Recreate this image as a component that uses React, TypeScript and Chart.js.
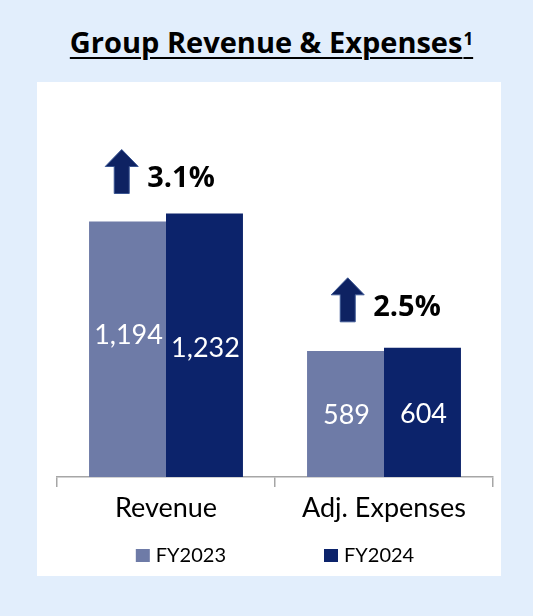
import React, { useEffect, useRef } from "react";
import { Chart, registerables } from "chart.js";

Chart.register(...registerables);

const categories = ["Revenue", "Adj. Expenses"];
const seriesNames = ["FY2023", "FY2024"];
const fy2023 = [1194, 589];
const fy2024 = [1232, 604];
const growthLabels = ["3.1%", "2.5%"];

const seriesColors = ["#6E7BA7", "#0C236B"];
const FONT = "Lato, 'Open Sans', sans-serif";
const BOLD_FONT = "'Open Sans', Lato, sans-serif";

const valueLabelPlugin = {
  id: "valueLabels",
  afterDatasetsDraw(chart: any) {
    const ctx = chart.ctx;
    const shifts = [
      [-15, 0],
      [2, 1],
    ];
    ctx.save();
    ctx.fillStyle = "#FFFFFF";
    ctx.font = `27px ${FONT}`;
    ctx.textAlign = "center";
    ctx.textBaseline = "alphabetic";
    chart.data.datasets.forEach((ds: any, di: number) => {
      const meta = chart.getDatasetMeta(di);
      meta.data.forEach((bar: any, i: number) => {
        const { x, y, base } = bar.getProps(["x", "y", "base"], true);
        const mid = (y + base) / 2 + (shifts[di]?.[i] ?? 0);
        const text = Number(ds.data[i]).toLocaleString("en-US");
        ctx.fillText(text, x + 1, mid + 10);
      });
    });
    ctx.restore();
  },
};

const growthPlugin = {
  id: "growthArrows",
  afterDraw(chart: any) {
    const ctx = chart.ctx;
    const xScale = chart.scales.x;
    const gaps = [20, 26];
    const xShift = [-6, 2];
    ctx.save();
    growthLabels.forEach((label, i) => {
      let top = Infinity;
      chart.data.datasets.forEach((_: any, di: number) => {
        const el = chart.getDatasetMeta(di).data[i];
        if (el) top = Math.min(top, el.y);
      });
      const cx = xScale.getPixelForValue(i) + xShift[i];
      ctx.font = `bold 29px ${BOLD_FONT}`;
      const tw = ctx.measureText(label).width;
      const aw = 33;
      const gap = 9;
      const total = aw + gap + tw;
      const left = cx - total / 2;
      const bottom = top - gaps[i];
      const h = 44;
      const headH = 17;
      const shaft = 15;
      const acx = left + aw / 2;
      ctx.beginPath();
      ctx.moveTo(acx, bottom - h);
      ctx.lineTo(left + aw, bottom - h + headH);
      ctx.lineTo(acx + shaft / 2, bottom - h + headH);
      ctx.lineTo(acx + shaft / 2, bottom);
      ctx.lineTo(acx - shaft / 2, bottom);
      ctx.lineTo(acx - shaft / 2, bottom - h + headH);
      ctx.lineTo(left, bottom - h + headH);
      ctx.closePath();
      ctx.fillStyle = "#0E2262";
      ctx.fill();
      ctx.lineWidth = 1;
      ctx.strokeStyle = "#3A5592";
      ctx.stroke();
      ctx.fillStyle = "#000000";
      ctx.textAlign = "left";
      ctx.textBaseline = "alphabetic";
      ctx.fillText(label, left + aw + gap, bottom - 6);
    });
    ctx.restore();
  },
};

const legendPlugin = {
  id: "customLegend",
  afterDraw(chart: any) {
    const ctx = chart.ctx;
    const area = chart.chartArea;
    const box = 14;
    const boxH = 13;
    const textGap = 6;
    const spacing = 98;
    ctx.save();
    ctx.font = `20px ${FONT}`;
    ctx.textBaseline = "alphabetic";
    ctx.textAlign = "left";
    const items = chart.data.datasets.map((ds: any) => ({
      text: ds.label,
      color: ds.backgroundColor,
      w: box + textGap + ctx.measureText(ds.label).width,
    }));
    const total =
      items.reduce((s: number, it: any) => s + it.w, 0) + spacing * (items.length - 1);
    let x = (area.left + area.right) / 2 - total / 2;
    const baseY = area.bottom + 85;
    items.forEach((it: any) => {
      ctx.fillStyle = it.color;
      ctx.fillRect(x, baseY - boxH, box, boxH);
      ctx.fillStyle = "#000000";
      ctx.fillText(it.text, x + box + textGap, baseY);
      x += it.w + spacing;
    });
    ctx.restore();
  },
};

export default function App() {
  const canvasRef = useRef<HTMLCanvasElement | null>(null);

  useEffect(() => {
    if (!canvasRef.current) return;
    const chart = new Chart(canvasRef.current, {
      type: "bar",
      data: {
        labels: categories,
        datasets: [
          {
            label: seriesNames[0],
            data: fy2023,
            backgroundColor: seriesColors[0],
            categoryPercentage: 0.706,
            barPercentage: 1,
          },
          {
            label: seriesNames[1],
            data: fy2024,
            backgroundColor: seriesColors[1],
            categoryPercentage: 0.706,
            barPercentage: 1,
          },
        ],
      },
      options: {
        animation: false,
        responsive: true,
        maintainAspectRatio: false,
        layout: { padding: { top: 10, left: 20, right: 8, bottom: 0 } },
        plugins: {
          legend: { display: false },
          tooltip: { enabled: false },
          title: { display: false },
        },
        scales: {
          x: {
            grid: {
              display: true,
              drawOnChartArea: false,
              drawTicks: true,
              tickLength: 10,
              color: "#A6A6A6",
              lineWidth: 1.5,
            },
            border: { display: true, color: "#A6A6A6", width: 1.5 },
            ticks: {
              color: "#000000",
              font: { family: FONT, size: 27 },
              padding: 5,
            },
            afterFit: (scale: any) => {
              scale.height = 99;
            },
          },
          y: {
            display: false,
            min: 0,
            max: 1800,
          },
        },
      },
      plugins: [valueLabelPlugin, growthPlugin, legendPlugin],
    });
    return () => chart.destroy();
  }, []);

  return (
    <div
      style={{
        position: "absolute",
        left: 0,
        top: 0,
        width: 533,
        height: 616,
        background: "#E2EEFC",
        overflow: "hidden",
      }}
    >
      <div
        style={{
          position: "absolute",
          left: 5,
          top: 27,
          width: 533,
          textAlign: "center",
          fontFamily: BOLD_FONT,
          fontWeight: 700,
          fontSize: 29,
          lineHeight: "29px",
          color: "#000000",
          textDecoration: "underline",
          textDecorationThickness: "2px",
          textUnderlineOffset: "4px",
        }}
      >
        Group Revenue &amp; Expenses
        <sup
          style={{
            fontSize: 17,
            verticalAlign: "baseline",
            lineHeight: "17px",
            position: "relative",
            top: -8,
            marginLeft: 1,
          }}
        >
          1
        </sup>
      </div>
      <div
        style={{
          position: "absolute",
          left: 37,
          top: 82,
          width: 464,
          height: 494,
          background: "#FFFFFF",
        }}
      >
        <canvas ref={canvasRef} />
      </div>
    </div>
  );
}
